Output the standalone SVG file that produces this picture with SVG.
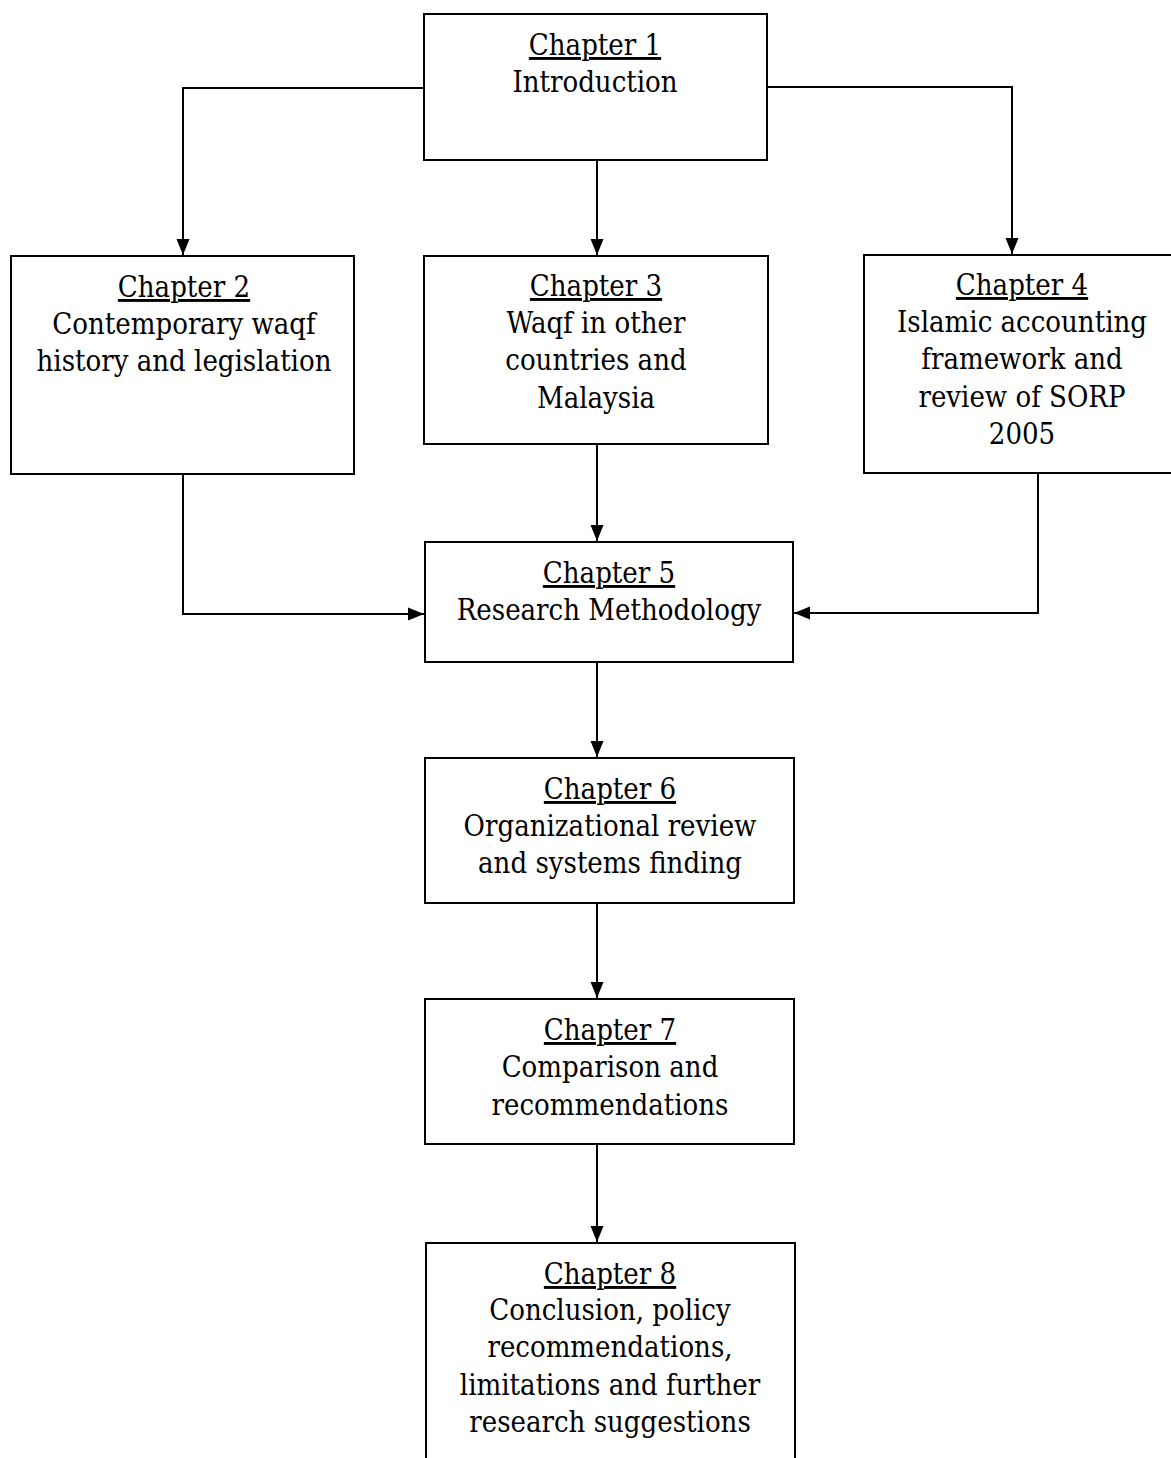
<svg xmlns="http://www.w3.org/2000/svg" width="1171" height="1458" viewBox="0 0 1171 1458">
<defs>
<style>
.box{fill:#fff;stroke:#000;stroke-width:2}
.t{font-family:'DejaVu Serif Condensed','DejaVu Serif',serif;font-stretch:condensed;font-size:29px;fill:#000;text-anchor:middle}
.u{text-decoration:underline}
.c{fill:none;stroke:#000;stroke-width:2}
</style>
<marker id="ah" markerUnits="userSpaceOnUse" markerWidth="17" markerHeight="14" refX="16" refY="7" orient="auto">
<path d="M0,0.5 L16,7 L0,13.5 Z" fill="#000"/>
</marker>
</defs>
<rect width="1171" height="1458" fill="#fff"/>
<g id="connectors">
<path class="c" d="M424,88 H183 V255" marker-end="url(#ah)"/>
<path class="c" d="M597,160 V255" marker-end="url(#ah)"/>
<path class="c" d="M767,87 H1012 V254" marker-end="url(#ah)"/>
<path class="c" d="M183,474 V614 H424" marker-end="url(#ah)"/>
<path class="c" d="M597,444 V541" marker-end="url(#ah)"/>
<path class="c" d="M1038,473 V613 H794" marker-end="url(#ah)"/>
<path class="c" d="M597,662 V757" marker-end="url(#ah)"/>
<path class="c" d="M597,903 V998" marker-end="url(#ah)"/>
<path class="c" d="M597,1144 V1242" marker-end="url(#ah)"/>
</g>
<g id="ch1">
<rect class="box" x="424" y="14" width="343" height="146"/>
<text class="t" x="595" y="55"><tspan class="u">Chapter 1</tspan><tspan x="595" dy="37">Introduction</tspan></text>
</g>
<g id="ch2">
<rect class="box" x="11" y="256" width="343" height="218"/>
<text class="t" x="184" y="297"><tspan class="u">Chapter 2</tspan><tspan x="184" dy="37">Contemporary waqf</tspan><tspan x="184" dy="37">history and legislation</tspan></text>
</g>
<g id="ch3">
<rect class="box" x="424" y="256" width="344" height="188"/>
<text class="t" x="596" y="296"><tspan class="u">Chapter 3</tspan><tspan x="596" dy="37">Waqf in other</tspan><tspan x="596" dy="37">countries and</tspan><tspan x="596" dy="38">Malaysia</tspan></text>
</g>
<g id="ch4">
<rect class="box" x="864" y="255" width="318" height="218"/>
<text class="t" x="1022" y="295"><tspan class="u">Chapter 4</tspan><tspan x="1022" dy="37">Islamic accounting</tspan><tspan x="1022" dy="37">framework and</tspan><tspan x="1022" dy="38">review of SORP</tspan><tspan x="1022" dy="37">2005</tspan></text>
</g>
<g id="ch5">
<rect class="box" x="425" y="542" width="368" height="120"/>
<text class="t" x="609" y="583"><tspan class="u">Chapter 5</tspan><tspan x="609" dy="37">Research Methodology</tspan></text>
</g>
<g id="ch6">
<rect class="box" x="425" y="758" width="369" height="145"/>
<text class="t" x="610" y="799"><tspan class="u">Chapter 6</tspan><tspan x="610" dy="37">Organizational review</tspan><tspan x="610" dy="37">and systems finding</tspan></text>
</g>
<g id="ch7">
<rect class="box" x="425" y="999" width="369" height="145"/>
<text class="t" x="610" y="1040"><tspan class="u">Chapter 7</tspan><tspan x="610" dy="37">Comparison and</tspan><tspan x="610" dy="38">recommendations</tspan></text>
</g>
<g id="ch8">
<rect class="box" x="426" y="1243" width="369" height="230"/>
<text class="t" x="610" y="1284"><tspan class="u">Chapter 8</tspan><tspan x="610" dy="36">Conclusion, policy</tspan><tspan x="610" dy="37">recommendations,</tspan><tspan x="610" dy="38">limitations and further</tspan><tspan x="610" dy="37">research suggestions</tspan></text>
</g>
</svg>
